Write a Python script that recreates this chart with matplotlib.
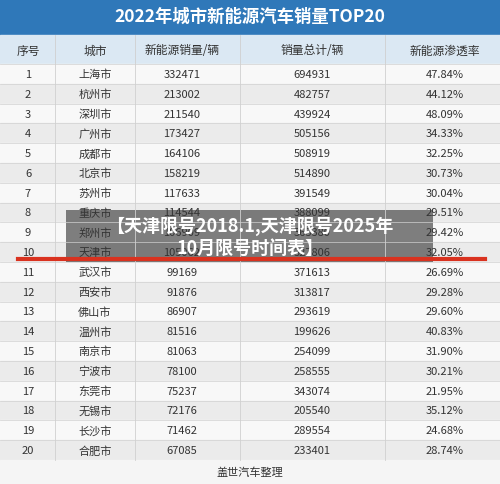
import matplotlib
matplotlib.use("Agg")
import matplotlib.pyplot as plt
from matplotlib.patches import Rectangle

plt.rcParams['font.family'] = ['Noto Sans CJK SC', 'DejaVu Sans']

title = "2022年城市新能源汽车销量TOP20"
headers = ["序号", "城市", "新能源销量/辆", "销量总计/辆", "新能源渗透率"]
ranks = list(range(1, 21))
cities = ["上海市", "杭州市", "深圳市", "广州市", "成都市", "北京市", "苏州市", "重庆市", "郑州市", "天津市",
          "武汉市", "西安市", "佛山市", "温州市", "南京市", "宁波市", "东莞市", "无锡市", "长沙市", "合肥市"]
nev = [332471, 213002, 211540, 173427, 164106, 158219, 117633, 114544, 106909, 105062,
       99169, 91876, 86907, 81516, 81063, 78100, 75237, 72176, 71462, 67085]
total = [694931, 482757, 439924, 505156, 508919, 514890, 391549, 388099, 363380, 327806,
         371613, 313817, 293619, 199626, 254099, 258555, 343074, 205540, 289554, 233401]
rate = ["47.84%", "44.12%", "48.09%", "34.33%", "32.25%", "30.73%", "30.04%", "29.51%", "29.42%", "32.05%",
        "26.69%", "29.28%", "29.60%", "40.83%", "31.90%", "30.21%", "21.95%", "35.12%", "24.68%", "28.74%"]
footer = "盖世汽车整理"
overlay = "【天津限号2018.1,天津限号2025年\n10月限号时间表】"

W, H = 500, 485
fig = plt.figure(figsize=(W/100, H/100), dpi=100)
ax = fig.add_axes([0, 0, 1, 1])
ax.set_xlim(0, W); ax.set_ylim(H, 0); ax.axis('off')

ax.add_patch(Rectangle((0, 0), W, 36, color='#2f78b9'))
ax.text(250, 17, title, ha='center', va='center', color='white', fontsize=12.5, fontweight='bold')
ax.add_patch(Rectangle((0, 36), W, 29, color='#dbe8f3'))
xs = [28, 95, 182, 312, 445]
vlines = [55, 135, 240, 385]
for x, h in zip(xs, headers):
    ax.text(x, 51, h, ha='center', va='center', fontsize=8.5, color='#333333')

y0, dy = 65, 19.8
for i in range(20):
    top = y0 + i*dy
    ax.add_patch(Rectangle((0, top), W, dy, color='#ebebeb' if i % 2 else '#f8f8f8'))
    ax.plot([0, W], [top, top], color='#d0d0d0', lw=0.5)
    cy = top + dy/2
    vals = [str(ranks[i]), cities[i], str(nev[i]), str(total[i]), rate[i]]
    for x, v in zip(xs, vals):
        ax.text(x, cy, v, ha='center', va='center', fontsize=8, color='#333333')
for x in vlines:
    ax.plot([x, x], [36, y0 + 20*dy], color='#d0d0d0', lw=0.6)
ax.add_patch(Rectangle((0, y0 + 20*dy), W, H - y0 - 20*dy, color='#f5f5f5'))
ax.text(250, (y0 + 20*dy + H)/2, footer, ha='center', va='center', fontsize=8, color='#333333')

ax.plot([18, 485], [y0 + 10*dy - 3, y0 + 10*dy - 3], color='#d9321f', lw=3)

ax.add_patch(Rectangle((66, 211), 367, 52, color='#4a4a4a', alpha=0.7, lw=0))
ax.text(250, 237, overlay, ha='center', va='center', fontsize=13, fontweight='bold',
        color='white', linespacing=1.2)

fig.savefig("out.png", dpi=100)
